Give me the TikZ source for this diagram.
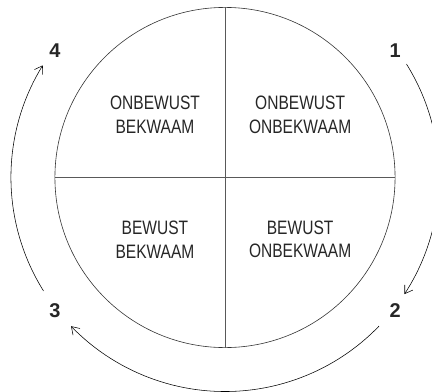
\documentclass[tikz,border=0pt]{standalone}
\usepackage{fontspec}
\setmainfont{Liberation Sans}
\newfontfamily\condfont[FakeStretch=0.8]{Liberation Sans}
\usepackage{xcolor}
\usepackage{tikz}
\usetikzlibrary{arrows.meta, calc}

\begin{document}
\begin{tikzpicture}[
    quadtext/.style={align=center, text=black!85, font=\condfont\fontsize{19.5}{24}\selectfont},
    steplabel/.style={font=\bfseries\fontsize{20}{24}\selectfont, text=black!85},
    cyclearrow/.style={line width=0.55pt, -{Straight Barb[length=2.6mm,width=3.4mm]}}
  ]
  % Fixed frame of the reference
  \useasboundingbox (-7.9375,-7.567) rectangle (7.3025,6.262);

  % Centre of the circle
  \coordinate (O) at (0,0);

  % Circle and quadrants
  \draw[line width=0.6pt,black!80] (O) circle (6);
  \draw[line width=0.8pt,black!65] (0,6) -- (0,-6);
  \draw[line width=0.8pt,black!65] (-6,0) -- (6,0);

  % Quadrant texts
  \node[quadtext] (ub) at (-2.47,2.22) {ONBEWUST\\BEKWAAM};
  \node[quadtext] (uo) at (2.65,2.22) {ONBEWUST\\ONBEKWAAM};
  \node[quadtext] (bb) at (-2.47,-2.18) {BEWUST\\BEKWAAM};
  \node[quadtext] (bo) at (2.65,-2.18) {BEWUST\\ONBEKWAAM};

  % Step numbers
  \node[steplabel] (n1) at (6.0,4.48) {1};
  \node[steplabel] (n2) at (6.0,-4.69) {2};
  \node[steplabel] (n3) at (-6.0,-4.69) {3};
  \node[steplabel] (n4) at (-6.0,4.48) {4};

  % Arrows around the circle
  \draw[cyclearrow] (O) ++(32:7.55) arc (32:-33:7.55);
  \draw[cyclearrow] (O) ++(-44:7.55) arc (-44:-136:7.55);
  \draw[cyclearrow] (O) ++(212:7.55) arc (212:148.4:7.55);
\end{tikzpicture}
\end{document}
